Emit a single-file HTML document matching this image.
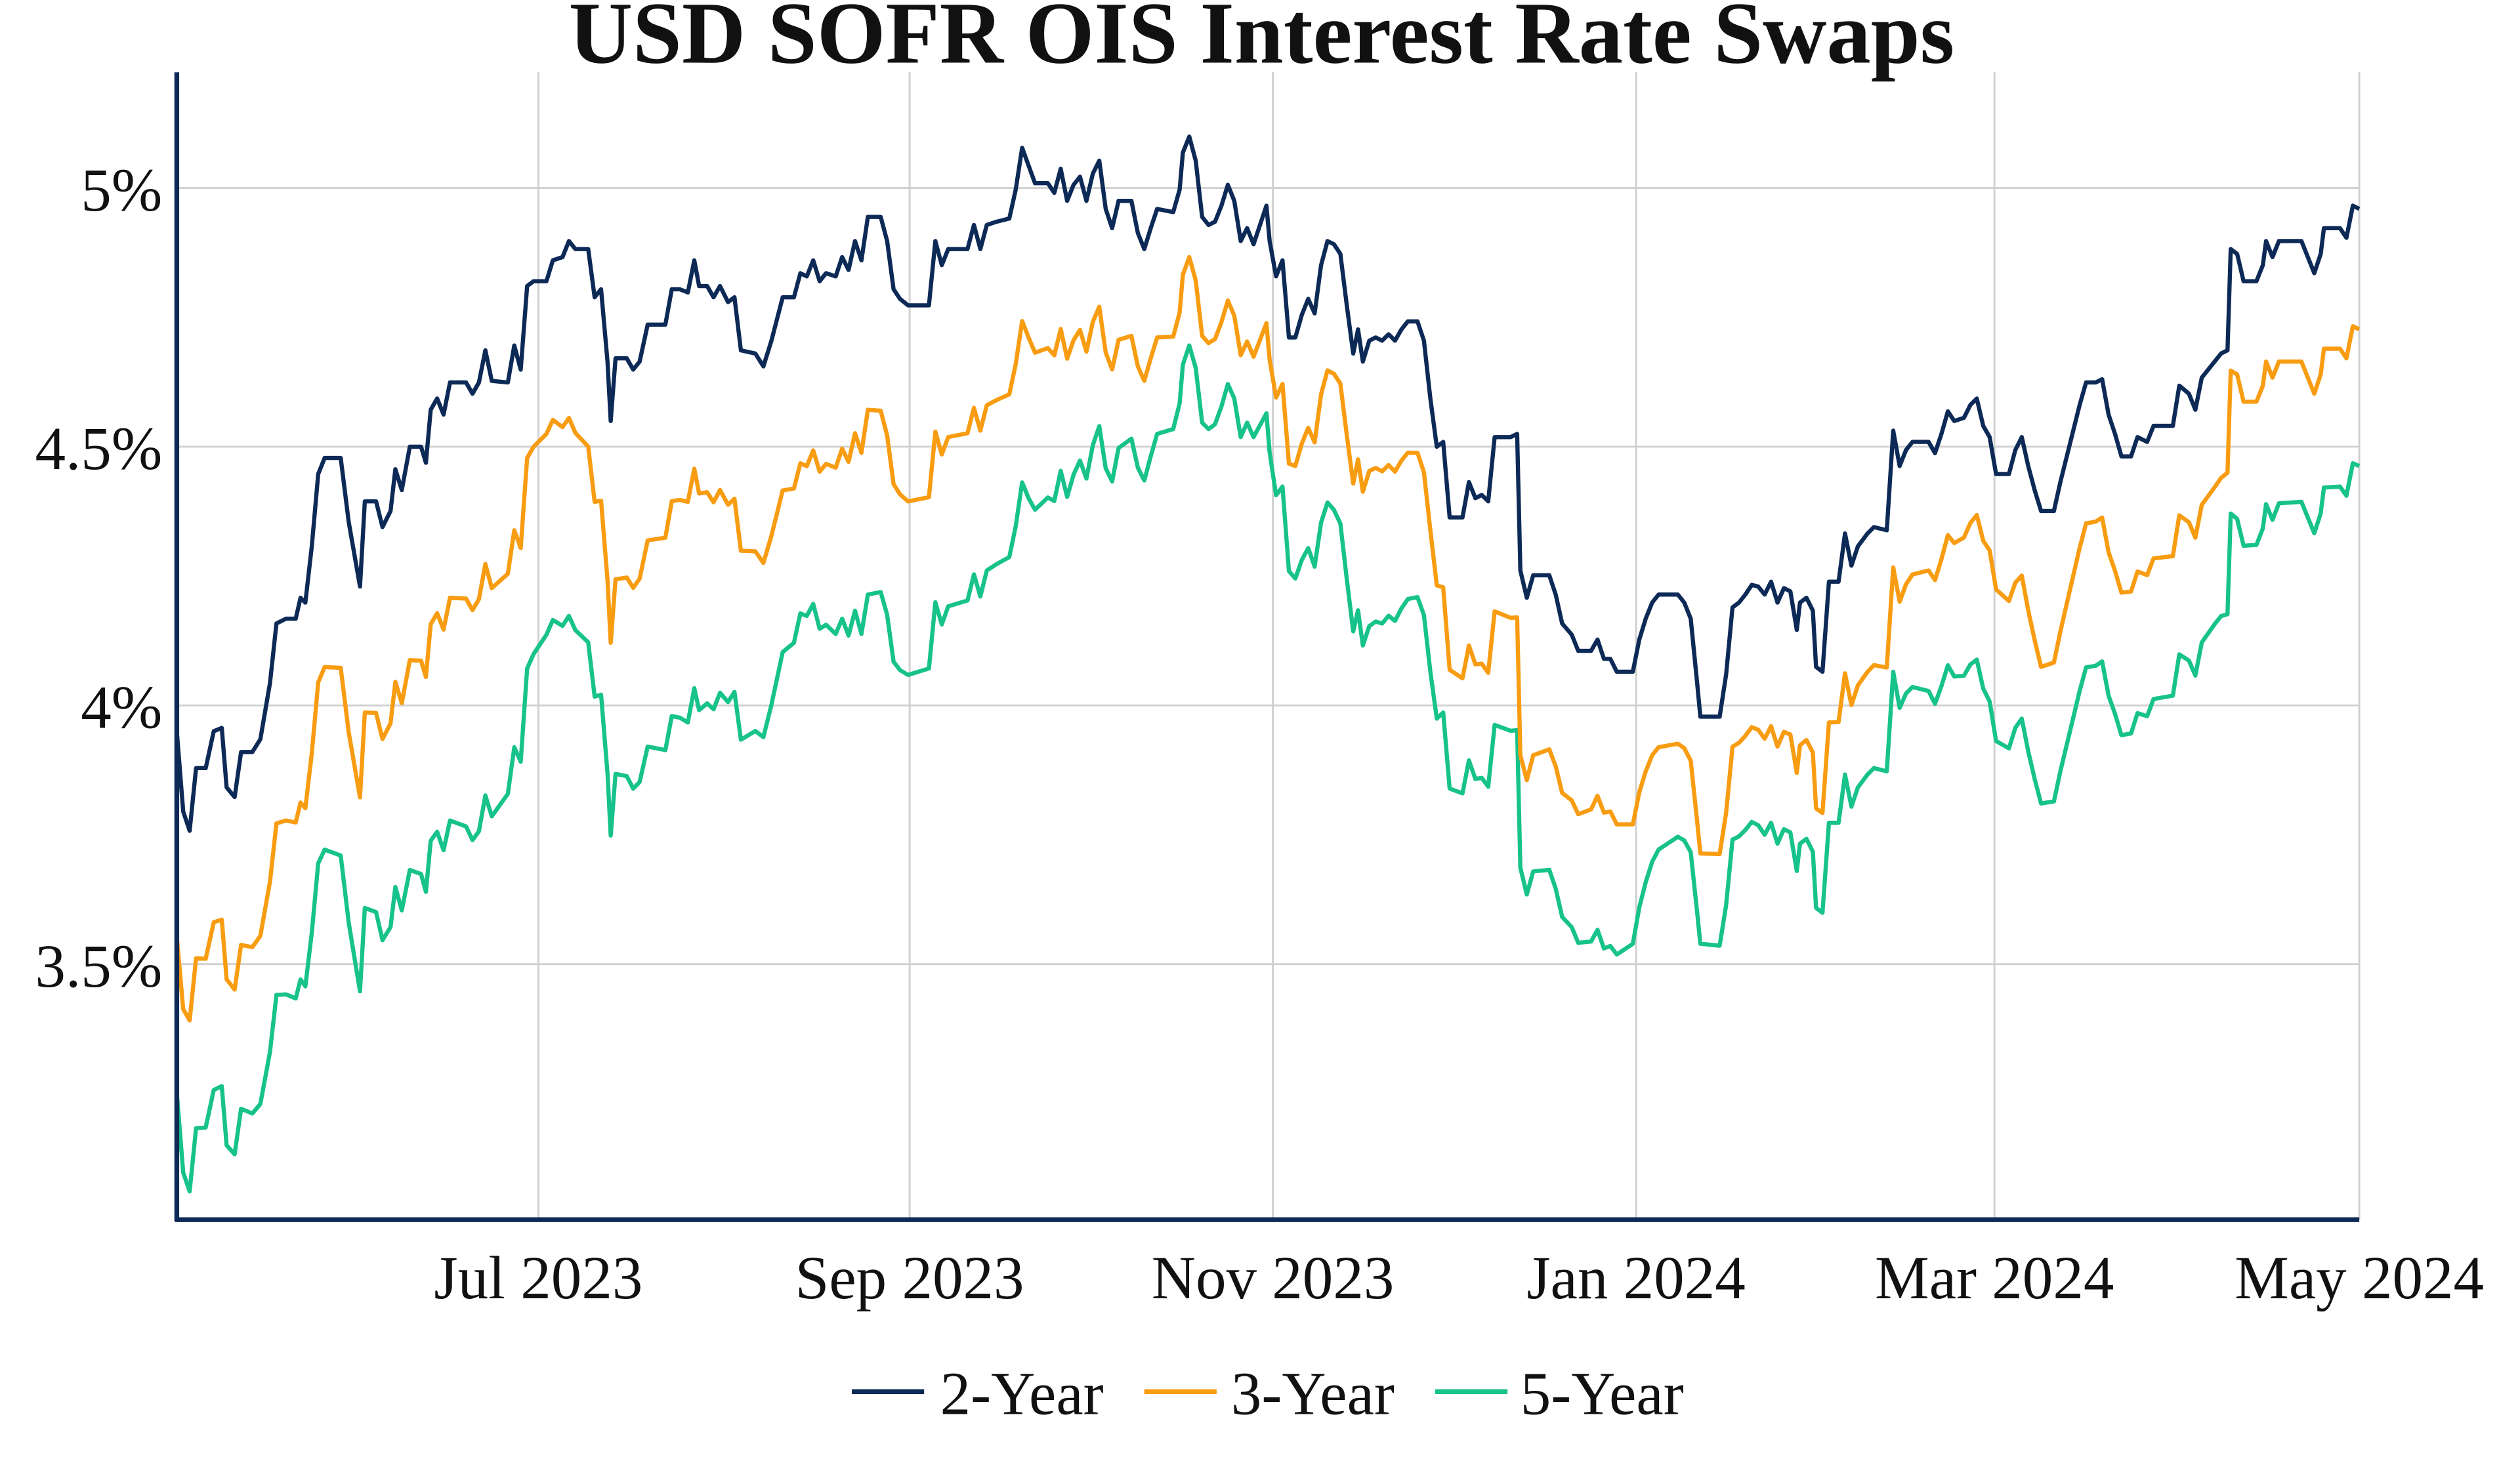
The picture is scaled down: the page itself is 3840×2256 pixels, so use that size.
<!DOCTYPE html>
<html><head><meta charset="utf-8"><style>
html,body{margin:0;padding:0;background:#fff;}
svg{display:block;}
text{font-family:"Liberation Serif",serif;fill:#111;}
</style></head><body>
<svg id="s" width="3840" height="2256" viewBox="0 0 1568 921" preserveAspectRatio="none" xmlns="http://www.w3.org/2000/svg">
<rect width="1568" height="921" fill="#fff"/>
<g stroke="#d0d0d0" stroke-width="1.2">
<line x1="110" y1="117" x2="1468" y2="117"/>
<line x1="110" y1="278" x2="1468" y2="278"/>
<line x1="110" y1="439" x2="1468" y2="439"/>
<line x1="110" y1="600" x2="1468" y2="600"/>
<line x1="335" y1="45" x2="335" y2="759"/>
<line x1="566" y1="45" x2="566" y2="759"/>
<line x1="792" y1="45" x2="792" y2="759"/>
<line x1="1018" y1="45" x2="1018" y2="759"/>
<line x1="1241" y1="45" x2="1241" y2="759"/>
<line x1="1468" y1="45" x2="1468" y2="759"/>
</g>
<text x="785" y="39" text-anchor="middle" font-size="55" font-weight="bold">USD SOFR OIS Interest Rate Swaps</text>
<g font-size="38" text-anchor="end">
<text x="101" y="131">5%</text>
<text x="101" y="292">4.5%</text>
<text x="101" y="453">4%</text>
<text x="101" y="614">3.5%</text>
</g>
<g font-size="38" text-anchor="middle">
<text x="335" y="808">Jul 2023</text>
<text x="566" y="808">Sep 2023</text>
<text x="792" y="808">Nov 2023</text>
<text x="1018" y="808">Jan 2024</text>
<text x="1241" y="808">Mar 2024</text>
<text x="1468" y="808">May 2024</text>
</g>
<g id="series" fill="none" stroke-width="2.6" stroke-linejoin="round"></g>
<line x1="110" y1="45" x2="110" y2="760" stroke="#0d2a57" stroke-width="3"/>
<line x1="109" y1="759" x2="1468" y2="759" stroke="#0d2a57" stroke-width="3"/>
<g font-size="38">
<line x1="530" y1="866" x2="575" y2="866" stroke="#0d2a57" stroke-width="3"/>
<text x="585" y="880">2-Year</text>
<line x1="712" y1="866" x2="757" y2="866" stroke="#f89c12" stroke-width="3"/>
<text x="766" y="880">3-Year</text>
<line x1="893" y1="866" x2="938" y2="866" stroke="#17c28b" stroke-width="3"/>
<text x="946" y="880">5-Year</text>
</g>
</svg>
<script>
var p=[110,455,114,505,118,517,122,478,128,478,133,455,138,453,141,490,146,496,150,468,157,468,162,460,168,425,172,388,178,385,184,385,187,372,190,375,194,340,198,295,202,285,212,285,217,325,224,365,227,312,234,312,238,328,243,318,246,292,250,305,255,278,262,278,265,288,268,255,272,248,276,258,280,238,290,238,294,245,298,238,302,218,306,237,316,238,320,215,324,230,328,178,332,175,340,175,344,162,350,160,354,150,358,155,366,155,370,185,374,180,378,225,380,262,383,223,390,223,394,230,398,225,403,202,414,202,418,180,423,180,428,182,432,162,435,178,440,178,444,185,448,178,453,188,457,185,461,218,470,220,475,228,480,212,487,185,494,185,498,170,502,172,506,162,510,175,514,170,520,172,524,160,528,168,532,150,536,162,540,135,548,135,552,150,556,180,560,186,565,190,578,190,582,150,586,165,590,155,602,155,606,140,610,155,614,140,620,138,628,136,632,118,636,92,640,103,644,114,652,114,656,120,660,105,664,125,668,115,672,110,676,125,680,108,684,100,688,130,692,142,696,125,704,125,708,145,712,155,716,142,720,130,730,132,734,118,736,95,740,85,744,100,748,135,752,140,756,138,760,128,764,115,768,125,772,150,776,142,780,152,784,140,788,128,790,150,794,172,798,162,802,210,806,210,810,196,814,186,818,195,822,165,826,150,830,152,834,158,838,190,842,220,845,205,848,225,852,212,856,210,860,212,864,208,868,212,872,205,876,200,882,200,886,212,890,248,894,278,898,275,902,322,910,322,914,300,918,310,922,308,926,312,930,272,940,272,944,270,946,355,950,372,954,358,964,358,968,370,972,388,978,395,982,405,990,405,994,398,998,410,1002,410,1006,418,1016,418,1020,398,1024,385,1028,375,1032,370,1044,370,1048,375,1052,385,1056,425,1058,446,1070,446,1074,420,1078,378,1082,375,1086,370,1090,364,1094,365,1098,370,1102,362,1106,375,1110,366,1114,368,1118,392,1120,375,1124,372,1128,380,1130,415,1134,418,1138,362,1144,362,1148,332,1152,352,1156,340,1162,332,1166,328,1174,330,1178,268,1182,290,1186,280,1190,275,1200,275,1204,282,1208,270,1212,256,1216,262,1222,260,1226,252,1230,248,1234,265,1238,272,1242,295,1250,295,1254,280,1258,272,1262,290,1266,305,1270,318,1278,318,1282,300,1290,268,1294,252,1298,238,1304,238,1308,236,1312,258,1316,270,1320,284,1326,284,1330,272,1336,275,1340,265,1352,265,1356,240,1362,245,1366,255,1370,235,1374,230,1378,225,1382,220,1386,218,1388,155,1392,158,1396,175,1404,175,1408,165,1410,150,1414,160,1418,150,1432,150,1436,160,1440,170,1444,158,1446,142,1456,142,1460,148,1464,128,1468,130];
var d3=[[110,128],[118,118],[150,120],[200,130],[300,135],[340,95],[380,138],[430,130],[500,118],[540,120],[565,122],[640,107],[700,85],[740,75],[780,70],[806,80],[890,82],[905,98],[946,115],[1000,95],[1040,95],[1060,84],[1100,90],[1180,85],[1240,70],[1270,97],[1300,87],[1380,78],[1390,75],[1468,75]];
var d5=[[110,225],[150,222],[200,243],[300,280],[340,220],[380,258],[430,268],[500,210],[540,235],[565,230],[640,207],[700,150],[740,130],[780,120],[806,150],[850,178],[900,168],[946,185],[1000,180],[1060,140],[1100,150],[1180,150],[1240,165],[1270,182],[1300,177],[1380,163],[1390,165],[1468,160]];
function interp(t,x){for(var i=0;i<t.length-1;i++){if(x<=t[i+1][0]){var a=t[i],b=t[i+1];return a[1]+(b[1]-a[1])*(x-a[0])/(b[0]-a[0]);}}return t[t.length-1][1];}
function pts(t){var s=[];for(var i=0;i<p.length;i+=2){var x=p[i],y=p[i+1]+(t?interp(t,x):0);s.push(x+','+y.toFixed(1));}return s.join(' ');}
var g=document.getElementById('series');
[[d5,'#17c28b'],[d3,'#f89c12'],[null,'#0d2a57']].forEach(function(c){var e=document.createElementNS('http://www.w3.org/2000/svg','polyline');e.setAttribute('points',pts(c[0]));e.setAttribute('stroke',c[1]);g.appendChild(e);});
</script>
</body></html>
